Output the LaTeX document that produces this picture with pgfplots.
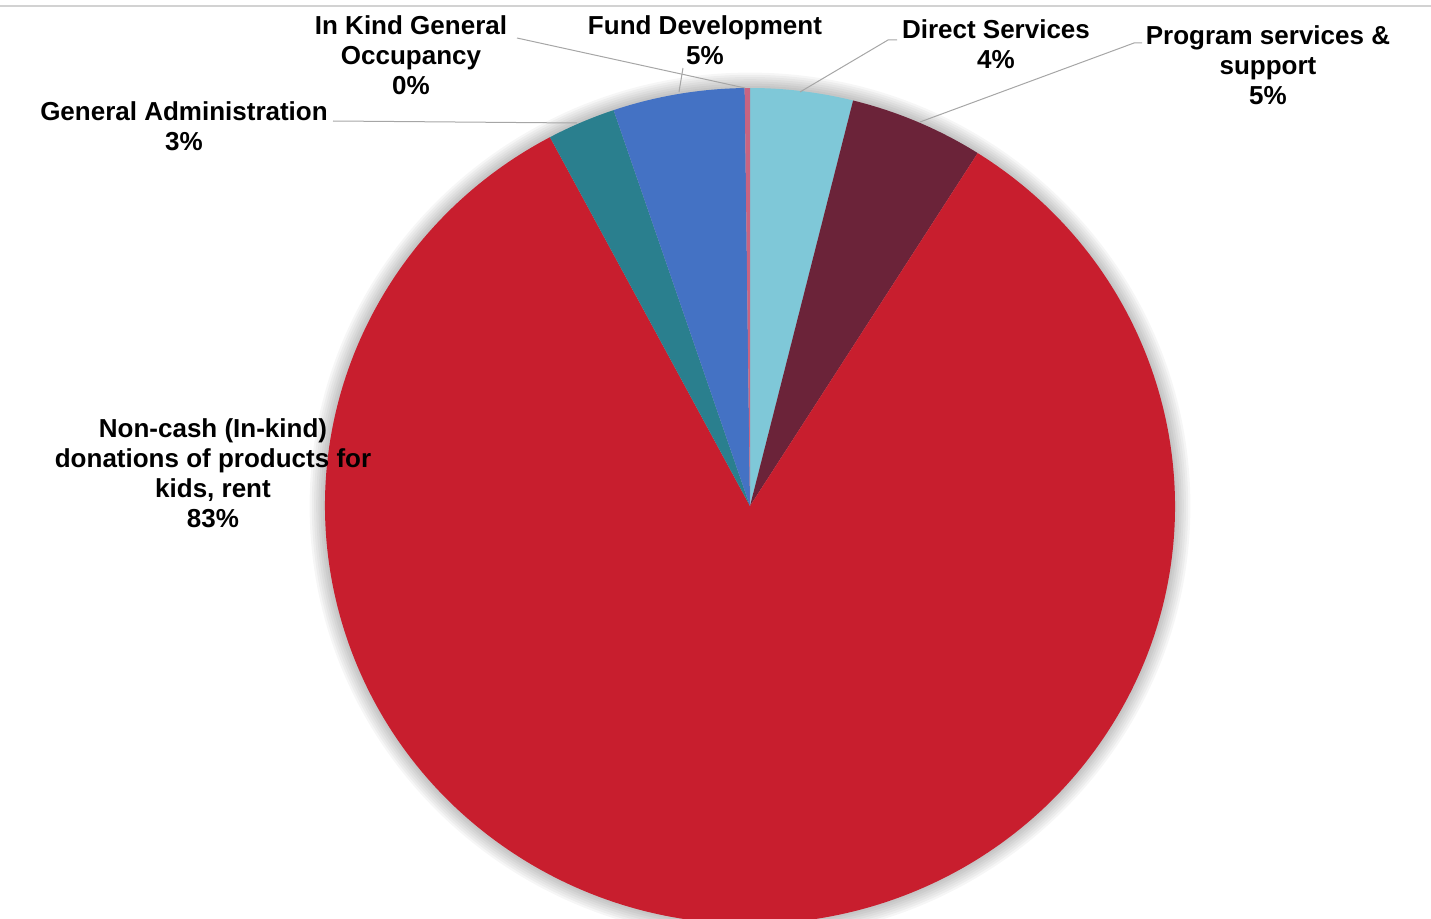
\documentclass[border=0pt]{standalone}
\usepackage{pgfplots}
\pgfplotsset{compat=1.18}
\usepackage{pgfplotstable}
\usepackage{fontspec}
\setmainfont{Liberation Sans}

% slice colours, in table order
\definecolor{c0}{HTML}{7FC8D8} % Direct Services
\definecolor{c1}{HTML}{6B2339} % Program services & support
\definecolor{c2}{HTML}{C81E2E} % Non-cash donations
\definecolor{c3}{HTML}{2A7F8E} % General Administration
\definecolor{c4}{HTML}{4472C4} % Fund Development
\definecolor{c5}{HTML}{C86482} % In Kind General Occupancy

% shares in percent, clockwise from 12 o'clock
\pgfplotstableread{
slice value
Direct 3.9
Program 5.1
NonCash 83.2
GenAdmin 2.6
Fund 5.0
InKind 0.2
}\piedata

% start and end angle of each slice
\def\curang{90}
\pgfplotsforeachungrouped \i in {0,...,5}{%
  \pgfplotstablegetelem{\i}{value}\of\piedata
  \pgfmathsetmacro\nextang{\curang-3.6*\pgfplotsretval}%
  \expandafter\xdef\csname sa\i\endcsname{\curang}%
  \expandafter\xdef\csname ea\i\endcsname{\nextang}%
  \xdef\curang{\nextang}%
}

\def\rx{212.5pt}
\def\ry{209pt}

\begin{document}
\begin{tikzpicture}
  \clip (0,0) rectangle (715.5pt,459pt);
  \begin{axis}[
    x=0.5pt, y=0.5pt,
    xmin=0, xmax=1431,
    ymin=0, ymax=918,
    hide axis,
    clip=false,
  ]
    % soft shadow round the pie
    \pgfplotsinvokeforeach{1,...,7}{
      \fill[black, opacity=0.035] (axis cs:750,412) ellipse [x radius=\rx+#1*1.1pt, y radius=\ry+#1*1.1pt];
    }
    % slices
    \pgfplotsinvokeforeach{0,...,5}{
      \fill[c#1] (axis cs:750,412)
        -- ([shift={(\csname sa#1\endcsname:\rx\space and \ry)}]axis cs:750,412)
        arc[start angle=\csname sa#1\endcsname, end angle=\csname ea#1\endcsname,
            x radius=\rx, y radius=\ry] -- cycle;
    }

    % top rule under the cut-off title
    \draw[gray!35, line width=0.8pt] (axis cs:0,912) -- (axis cs:1431,912);

    % leader lines
    \begin{scope}[gray!70, line width=0.5pt]
      \draw (axis cs:517,880) -- (axis cs:745,830);
      \draw (axis cs:683,850) -- (axis cs:679,826);
      \draw (axis cs:897,878) -- (axis cs:888,878) -- (axis cs:800,826);
      \draw (axis cs:1142,875) -- (axis cs:1134,875) -- (axis cs:920,796);
      \draw (axis cs:333,797) -- (axis cs:577,795);
    \end{scope}

    % labels
    \begin{scope}[every node/.style={align=center, inner sep=0pt,
        font=\bfseries\fontsize{13pt}{15pt}\selectfont}]
      \node at (axis cs:411,863) {In Kind General\\Occupancy\\0\%};
      \node at (axis cs:705,878) {Fund Development\\5\%};
      \node at (axis cs:996,874) {Direct Services\\4\%};
      \node at (axis cs:1268,853) {Program services \&\\support\\5\%};
      \node at (axis cs:184,792) {General Administration\\3\%};
      \node at (axis cs:213,445) {Non-cash (In-kind)\\donations of products for\\kids, rent\\83\%};
    \end{scope}
  \end{axis}
\end{tikzpicture}
\end{document}
